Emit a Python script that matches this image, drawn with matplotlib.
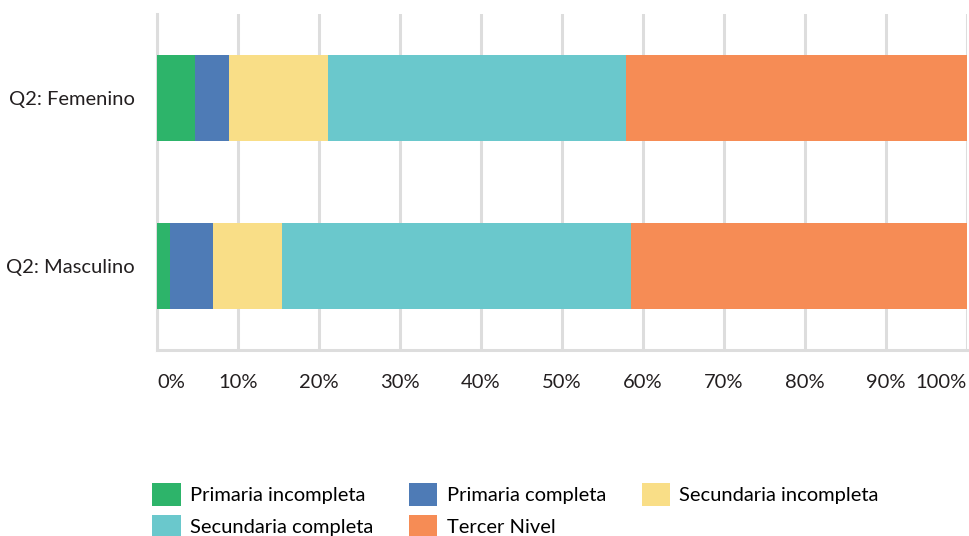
import numpy as np
import matplotlib.pyplot as plt
from matplotlib.patches import Patch

plt.rcParams['font.family'] = ['Lato', 'DejaVu Sans']

# Data
groups = ["Q2: Femenino", "Q2: Masculino"]
levels = ["Primaria incompleta", "Primaria completa", "Secundaria incompleta",
          "Secundaria completa", "Tercer Nivel"]
femenino = [4.7, 4.2, 12.2, 36.8, 42.1]
masculino = [1.6, 5.3, 8.5, 43.1, 41.5]
tick_vals = [0, 10, 20, 30, 40, 50, 60, 70, 80, 90, 100]
tick_labels = ["0%", "10%", "20%", "30%", "40%", "50%", "60%", "70%", "80%", "90%", "100%"]

colors = ["#2DB46A", "#4E7BB6", "#F9DE87", "#6AC8CC", "#F68C55"]

values = np.array([femenino, masculino])

fig = plt.figure(figsize=(9.69, 5.36), dpi=100)
ax = fig.add_axes([0.162, 0.347, 0.836, 0.627])

y = np.arange(len(groups))
left = np.zeros(len(groups))
for i, lvl in enumerate(levels):
    ax.barh(y, values[:, i], left=left, height=0.51, color=colors[i],
            label=lvl, zorder=3)
    left += values[:, i]

ax.set_xlim(0, 100)
ax.set_ylim(1.5, -0.5)
ax.set_xticks(tick_vals)
ax.set_xticklabels(tick_labels)
ax.set_yticks(y)
ax.set_yticklabels(groups)
ax.grid(axis='x', color='#dddddd', linewidth=2.2, zorder=0)
ax.tick_params(axis='both', length=0, labelsize=14.5, colors='#231f20')
ax.tick_params(axis='x', pad=17)
ax.tick_params(axis='y', pad=16)
# end labels sit inside the plot edges, as in the original
xl = ax.get_xticklabels()
xl[0].set_ha('left')
xl[-1].set_ha('right')
for s in ['top', 'right']:
    ax.spines[s].set_visible(False)
for s in ['left', 'bottom']:
    ax.spines[s].set_color('#dddddd')
    ax.spines[s].set_linewidth(2.2)

handles = [Patch(facecolor=c) for c in colors]
order = [0, 3, 1, 4, 2]
fig.legend([handles[i] for i in order], [levels[i] for i in order],
           ncol=3, loc='lower left', bbox_to_anchor=(0.157, -0.004),
           frameon=False, handlelength=1.42, handleheight=1.42,
           handletextpad=0.45, columnspacing=1.78, labelspacing=0.42,
           borderaxespad=0, borderpad=0, prop={'size': 14.5})

fig.savefig("out.png", dpi=100)
